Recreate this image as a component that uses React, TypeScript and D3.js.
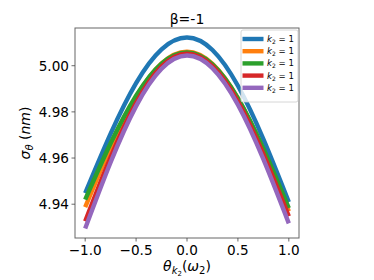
import React from "react";
import * as d3 from "d3";

const xValues = [-1, -0.75, -0.5, -0.25, 0, 0.25, 0.5, 0.75, 1];
const blueValues = [4.9448, 4.9706, 4.9925, 5.0071, 5.0122, 5.0068, 4.9913, 4.9682, 4.9409];
const orangeValues = [4.9387, 4.9645, 4.9864, 5.001, 5.0061, 5.0008, 4.9858, 4.9634, 4.9369];
const greenValues = [4.942, 4.9664, 4.987, 5.0009, 5.0057, 5.0006, 4.986, 4.9641, 4.9383];
const redValues = [4.9326, 4.9604, 4.9839, 4.9997, 5.0052, 4.9998, 4.9846, 4.9618, 4.9348];
const purpleValues = [4.9295, 4.9582, 4.9825, 4.9987, 5.0044, 4.9989, 4.9831, 4.9595, 4.9317];
const seriesColors = ["#1f77b4", "#ff7f0e", "#2ca02c", "#d62728", "#9467bd"];
const seriesList = [blueValues, orangeValues, greenValues, redValues, purpleValues];
const xTicks = [-1, -0.5, 0, 0.5, 1];
const yTicks = [4.94, 4.96, 4.98, 5.0];
const titleText = "β=-1";

const W = 374, H = 280;
const left = 75, right = 299, top = 28, bottom = 238;
const FONT = "DejaVu Sans";

export default function App() {
  const all = seriesList.flat();
  const [ymin, ymax] = d3.extent(all) as [number, number];
  const ypad = (ymax - ymin) * 0.05;
  const x = d3.scaleLinear().domain([-1.1, 1.1]).range([left, right]);
  const y = d3.scaleLinear().domain([ymin - ypad, ymax + ypad]).range([bottom, top]);
  const line = d3
    .line<number>()
    .x((_, i) => x(xValues[i]))
    .y((d) => y(d))
    .curve(d3.curveNatural);
  const fmtX = (v: number) => (v < 0 ? "\u2212" : "") + Math.abs(v).toFixed(1);

  const legX = 241, legY = 30, legW = 57, legH = 72, rowH = 12.2;

  return (
    <svg width={W} height={H} style={{ position: "absolute", left: 0, top: 0, background: "#fff" }} fontFamily={FONT}>
      <rect x={0} y={0} width={W} height={H} fill="#fff" />
      <defs>
        <clipPath id="clip">
          <rect x={left} y={top} width={right - left} height={bottom - top} />
        </clipPath>
      </defs>
      <g clipPath="url(#clip)">
        {seriesList.map((s, i) => (
          <path key={i} d={line(s) || ""} fill="none" stroke={seriesColors[i]} strokeWidth={4.4} />
        ))}
      </g>
      <rect x={left} y={top} width={right - left} height={bottom - top} fill="none" stroke="#666" strokeWidth={1} />
      {xTicks.map((t) => (
        <g key={t}>
          <line x1={x(t)} x2={x(t)} y1={bottom} y2={bottom + 3.5} stroke="#444" strokeWidth={0.8} />
          <text x={x(t)} y={255} textAnchor="middle" fontSize={13.6} fill="#000">
            {fmtX(t)}
          </text>
        </g>
      ))}
      {yTicks.map((t) => (
        <g key={t}>
          <line x1={left - 3.5} x2={left} y1={y(t)} y2={y(t)} stroke="#444" strokeWidth={0.8} />
          <text x={69} y={y(t) + 5} textAnchor="end" fontSize={13.6} fill="#000">
            {t.toFixed(2)}
          </text>
        </g>
      ))}
      <text x={(left + right) / 2} y={24} textAnchor="middle" fontSize={14} fill="#000">
        {titleText}
      </text>
      <text transform={`translate(30,${(top + bottom) / 2}) rotate(-90)`} textAnchor="middle" fontSize={14} fill="#000">
        <tspan fontStyle="italic">σ</tspan>
        <tspan fontStyle="italic" fontSize={10} dy={3}>θ</tspan>
        <tspan dy={-3}> (</tspan>
        <tspan fontStyle="italic">nm</tspan>
        <tspan>)</tspan>
      </text>
      <text x={(left + right) / 2} y={271} textAnchor="middle" fontSize={14} fill="#000">
        <tspan fontStyle="italic">θ</tspan>
        <tspan fontStyle="italic" fontSize={10} dy={3}>k</tspan>
        <tspan fontSize={7} dy={2}>2</tspan>
        <tspan dy={-5}>(</tspan>
        <tspan fontStyle="italic">ω</tspan>
        <tspan fontSize={10} dy={3}>2</tspan>
        <tspan dy={-3}>)</tspan>
      </text>
      <rect x={legX} y={legY} width={legW} height={legH} rx={2} fill="#fff" fillOpacity={0.8} stroke="#ccc" strokeWidth={0.8} />
      {seriesColors.map((c, i) => {
        const yy = legY + 9 + i * rowH;
        return (
          <g key={i}>
            <line x1={legX + 1.5} x2={legX + 22.5} y1={yy} y2={yy} stroke={c} strokeWidth={4.4} />
            <text x={legX + 26} y={yy + 3} fontSize={8.6} fill="#000">
              <tspan fontStyle="italic">k</tspan>
              <tspan fontSize={6} dy={2}>2</tspan>
              <tspan dy={-2}> = 1</tspan>
            </text>
          </g>
        );
      })}
    </svg>
  );
}
